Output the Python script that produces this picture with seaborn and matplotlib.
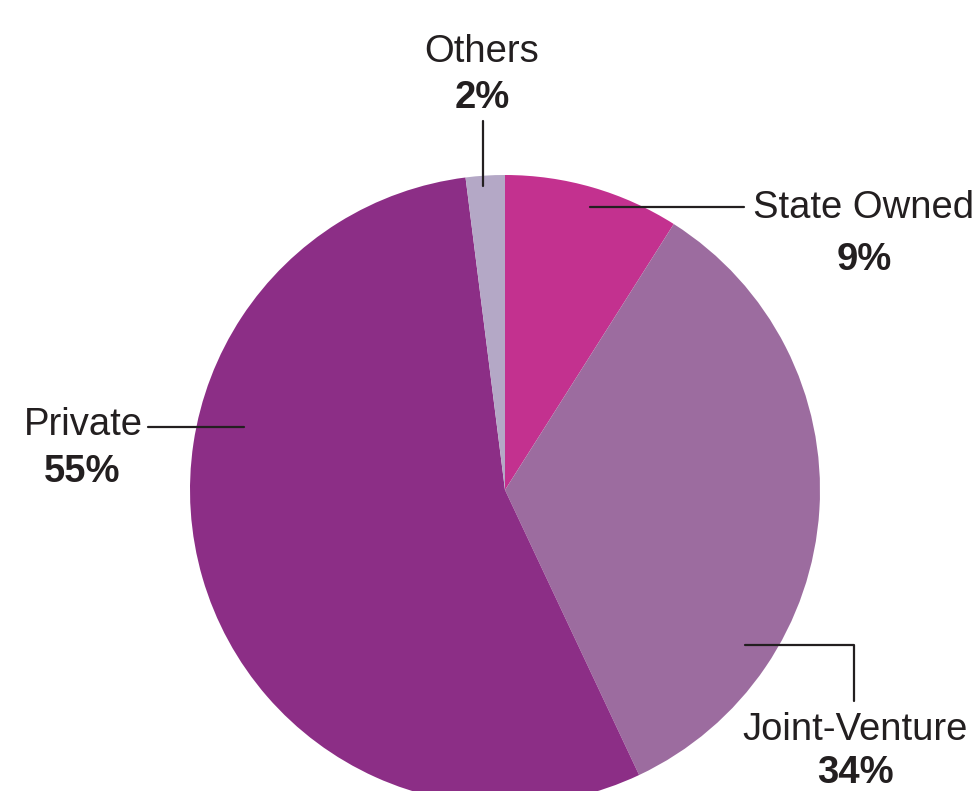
import matplotlib
matplotlib.use("Agg")
import matplotlib.pyplot as plt
import seaborn as sns

sns.set_theme(style="white")
plt.rcParams['font.family'] = ['Liberation Sans', 'DejaVu Sans']

categories = ["State Owned", "Joint-Venture", "Private", "Others"]
values = [9, 34, 55, 2]
colors = ["#C3318F", "#9C6C9F", "#8C2E86", "#B4A8C6"]

W, H = 978, 791
fig = plt.figure(figsize=(W / 100, H / 100), dpi=100)
ax = fig.add_axes([0, 0, 1, 1])

def Y(py):
    return H - py

cx, cy, r = 505, 490, 315
ax.pie(values, colors=colors, startangle=90, counterclock=False,
       center=(cx, Y(cy)), radius=r, frame=True,
       wedgeprops=dict(linewidth=0))
ax.set_xlim(0, W)
ax.set_ylim(0, H)
ax.set_aspect('equal')
ax.axis('off')

tc = "#231F20"
fs = 27.5
lw = 1.6

def label(x, y_name, y_pct, name, pct, ha='center', x_pct=None):
    ax.text(x, Y(y_name), name, ha=ha, va='baseline', fontsize=fs, color=tc)
    ax.text(x if x_pct is None else x_pct, Y(y_pct), pct, ha='center',
            va='baseline', fontsize=fs, color=tc, fontweight='bold')

# Others
ax.plot([483, 483], [Y(121), Y(186)], color=tc, lw=lw)
label(482, 62, 108, categories[3], f"{values[3]}%")

# State Owned
ax.plot([590, 744], [Y(207), Y(207)], color=tc, lw=lw)
label(864, 218, 270, categories[0], f"{values[0]}%")

# Private
ax.plot([148, 244], [Y(427), Y(427)], color=tc, lw=lw)
label(143, 435, 482, categories[2], f"{values[2]}%", ha='right', x_pct=82)

# Joint-Venture
ax.plot([745, 854, 854], [Y(645), Y(645), Y(701)], color=tc, lw=lw)
label(855, 740, 783, categories[1], f"{values[1]}%")

fig.savefig("out.png", dpi=100)
